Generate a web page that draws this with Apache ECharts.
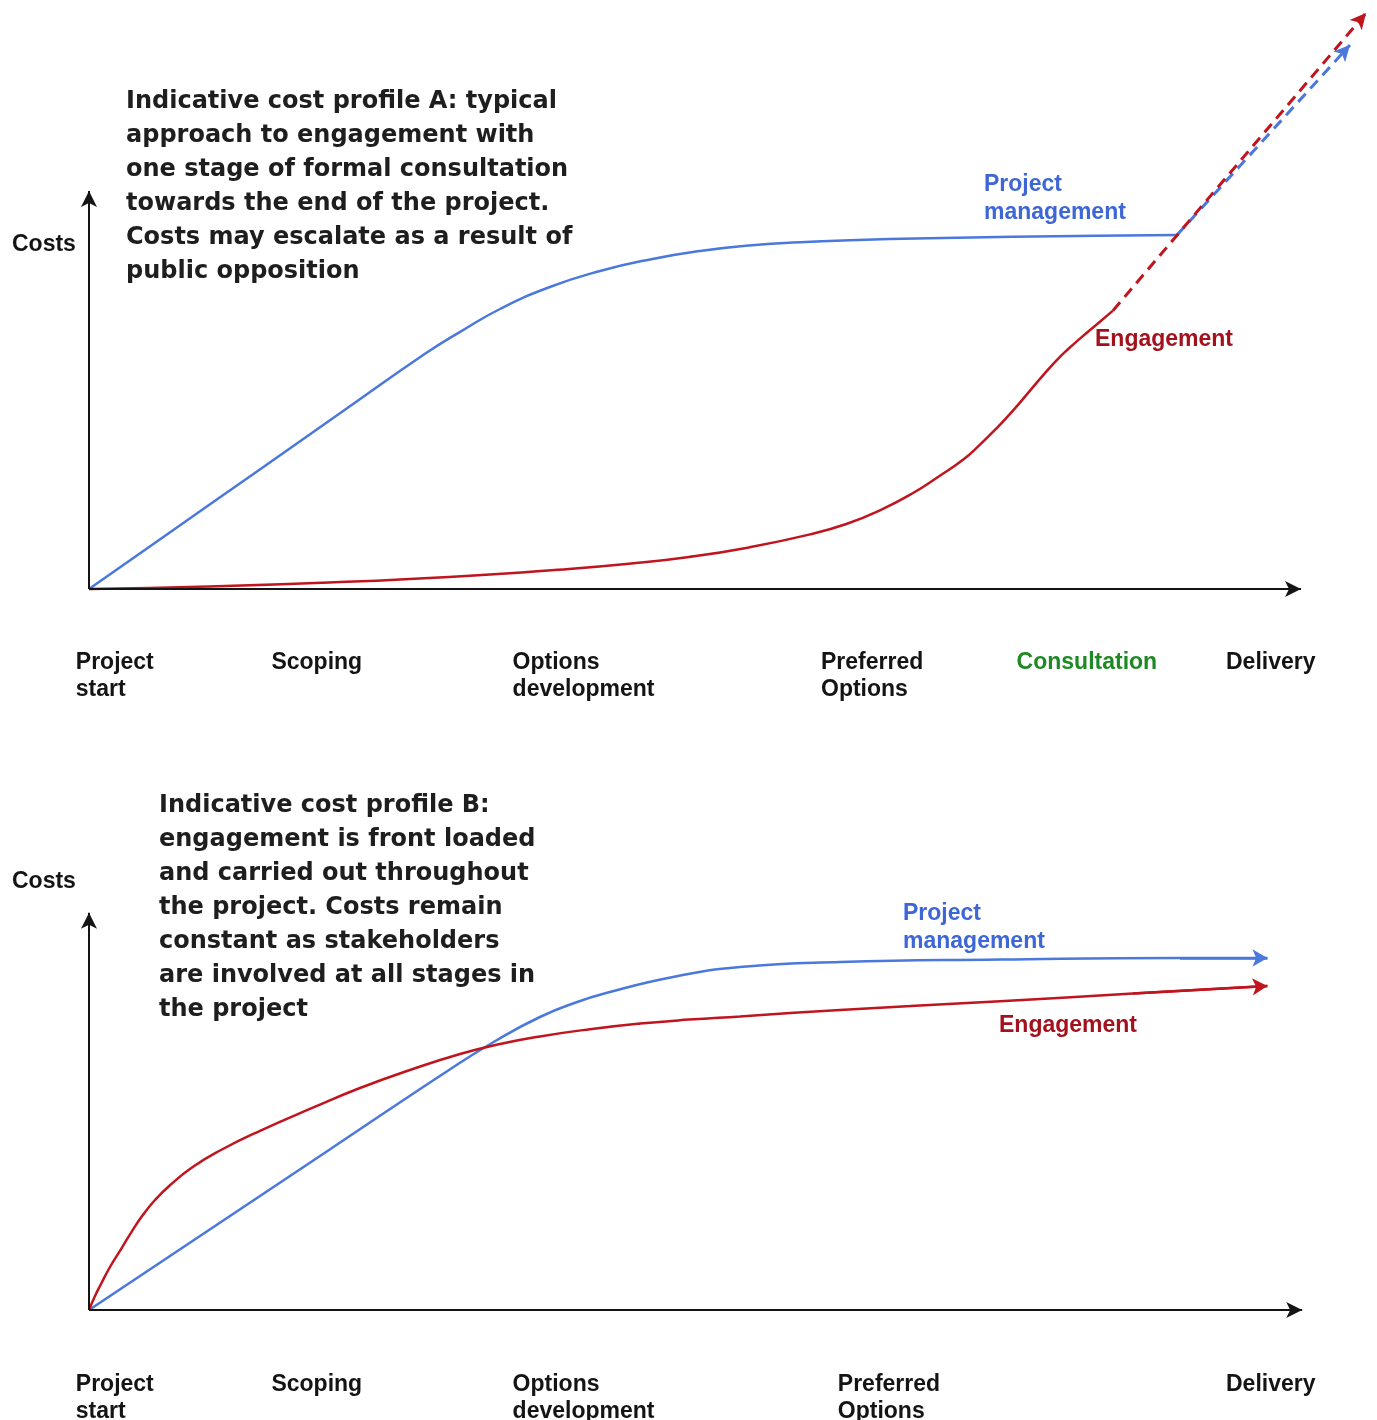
<!DOCTYPE html>
<html>
<head>
<meta charset="utf-8">
<script src="https://cdn.jsdelivr.net/npm/echarts@6/dist/echarts.min.js"></script>
<style>
  html, body { margin: 0; padding: 0; background: #ffffff; }
  #chart { width: 1377px; height: 1420px; }
</style>
</head>
<body>
<div id="chart"></div>
<script>
// ---- Profile A: typical approach, one formal consultation stage near the end ----
// x = project progress, y = relative cost (axis arrows at roughly 101 / 100)
const stageLabelsA = ['Project\nstart', 'Scoping', 'Options\ndevelopment', 'Preferred\nOptions', 'Consultation', 'Delivery'];
const stageAtA = [-1.1, 15.2, 35.3, 61, 77.3, 94.75];

const pmCostA = [[0, 0], [7, 14.7], [14, 29.4], [21, 44.1], [28, 58.8], [31, 64.4], [34.25, 70], [38.4, 75.5],
  [42.58, 79.5], [46.75, 82.4], [50.92, 84.5], [55, 85.9], [59.25, 86.7], [63.4, 87.2], [70, 87.7], [77, 88.05],
  [84, 88.3], [90.67, 88.5]];
const engCostA = [[0, 0], [10, 0.6], [20, 1.6], [30, 3], [40, 5], [45, 6.3], [50, 8], [55, 10.4], [60, 13.6],
  [63.17, 16.3], [66, 19.8], [68.67, 24], [70.75, 28], [72.83, 32.3], [74.25, 36.1], [75.67, 40.3], [77, 44.6],
  [78.42, 49.6], [79.5, 53.4], [80.67, 57.3], [81.6, 60], [82.58, 62.6], [84, 66.2], [85.33, 69.6]];
// escalation after the consultation stage (dashed)
const pmEscalationA = [[90.67, 88.5], [105.08, 136]];
const engEscalationA = [[85.33, 69.6], [106.42, 144]];

// ---- Profile B: front-loaded engagement throughout the project ----
const stageLabelsB = ['Project\nstart', 'Scoping', 'Options\ndevelopment', 'Preferred\nOptions', 'Delivery'];
const stageAtB = [-1.1, 15.2, 35.3, 62.4, 94.75];

const pmCostB = [[0, 0], [10, 20], [20, 40], [30, 60], [34, 67.5], [37.58, 73.25], [40.5, 76.8], [43.17, 79.3],
  [48.67, 83.25], [54.25, 85.75], [62.58, 87], [75.92, 87.6], [90.92, 88], [98.2, 88]];
const engCostB = [[0, 0], [0.5, 3.5], [1, 6.5], [1.75, 10.75], [2.75, 15.6], [3.6, 19.8], [4.5, 23.8], [5.5, 27.5],
  [6.75, 31.2], [8.67, 35.8], [11, 40], [14.25, 44.8], [18.75, 50.7], [22.58, 55.5], [26.75, 60], [30.92, 64],
  [34.25, 66.5], [37.58, 68.4], [41.75, 70.2], [45.92, 71.6], [50, 72.6], [54.25, 73.4], [62.58, 75], [75.92, 77.2],
  [87, 79.1], [98.2, 81]];

const axisEndA = [101, 99.5];
const axisEndB = [101.1, 99.3];

const BLUE = '#4a78dc';
const RED = '#c0141e';
const BLUE_TEXT = '#3d66d6';
const RED_TEXT = '#a3121c';
const GREEN_TEXT = '#1e8a24';
const INK = '#141414';

const stageFont = { fontFamily: 'Liberation Sans', fontWeight: 'bold', fontSize: 23, lineHeight: 27 };

function stageAxis(gridIndex, labels, positions, margin) {
  return {
    type: 'value', gridIndex: gridIndex, min: -2, max: 107,
    axisLine: { show: false }, axisTick: { show: false }, splitLine: { show: false },
    axisLabel: {
      show: true,
      customValues: positions,
      margin: margin,
      align: 'left',
      verticalAlign: 'top',
      ...stageFont,
      color: INK,
      formatter: function (v) {
        const i = positions.indexOf(v);
        const name = i >= 0 ? labels[i] : '';
        return name === 'Consultation' ? '{g|' + name + '}' : name;
      },
      rich: { g: { ...stageFont, color: GREEN_TEXT } }
    }
  };
}

function axesMarkLine(end) {
  return {
    silent: true,
    symbol: ['none', 'arrow'],
    symbolSize: [12, 16],
    label: { show: false },
    lineStyle: { color: INK, width: 2, type: 'solid' },
    emphasis: { disabled: true },
    data: [
      [{ coord: [0, 0] }, { coord: [end[0], 0] }],
      [{ coord: [0, 0] }, { coord: [0, end[1]] }]
    ]
  };
}

function arrowMarkLine(pts, color, dashed) {
  return {
    silent: true,
    symbol: ['none', 'arrow'],
    symbolSize: dashed ? [12, 16] : [13, 15],
    label: { show: false },
    lineStyle: { color: color, width: dashed ? 3 : 2.5, type: dashed ? [11, 7] : 'solid' },
    emphasis: { disabled: true },
    data: [[{ coord: pts[0] }, { coord: pts[1] }]]
  };
}

function curve(name, gridIndex, data, color, markLine) {
  return {
    name: name, type: 'line', xAxisIndex: gridIndex, yAxisIndex: gridIndex,
    data: data, smooth: 0.5, symbol: 'none', clip: false,
    lineStyle: { color: color, width: 2.5 },
    emphasis: { disabled: true },
    markLine: markLine
  };
}

const paraFont = 'bold 24px "DejaVu Sans"';
function text(x, y, str, font, color, lineHeight) {
  return {
    type: 'text', left: x, top: y, silent: true,
    style: { text: str, font: font, fill: color, lineHeight: lineHeight }
  };
}
const labelFont = 'bold 23px "Liberation Sans"';

const option = {
  animation: false,
  backgroundColor: '#ffffff',
  grid: [
    { left: 65, top: 0, width: 1308, height: 589, outerBoundsMode: 'none' },
    { left: 65, top: 910, width: 1308, height: 400, outerBoundsMode: 'none' }
  ],
  xAxis: [
    stageAxis(0, stageLabelsA, stageAtA, 60),
    stageAxis(1, stageLabelsB, stageAtB, 61)
  ],
  yAxis: [
    { type: 'value', gridIndex: 0, min: 0, max: 147.25, show: false },
    { type: 'value', gridIndex: 1, min: 0, max: 100, show: false }
  ],
  series: [
    { type: 'line', xAxisIndex: 0, yAxisIndex: 0, data: [], markLine: axesMarkLine(axisEndA) },
    { type: 'line', xAxisIndex: 1, yAxisIndex: 1, data: [], markLine: axesMarkLine(axisEndB) },
    curve('Project management', 0, pmCostA, BLUE, arrowMarkLine(pmEscalationA, BLUE, true)),
    curve('Engagement', 0, engCostA, RED, arrowMarkLine(engEscalationA, RED, true)),
    curve('Project management', 1, pmCostB, BLUE, arrowMarkLine(pmCostB.slice(-2), BLUE, false)),
    curve('Engagement', 1, engCostB, RED, arrowMarkLine(engCostB.slice(-2), RED, false))
  ],
  graphic: [
    text(126, 85, 'Indicative cost profile A: typical\napproach to engagement with\none stage of formal consultation\ntowards the end of the project.\nCosts may escalate as a result of\npublic opposition', paraFont, '#1e1e1e', 34),
    text(159, 789, 'Indicative cost profile B:\nengagement is front loaded\nand carried out throughout\nthe project. Costs remain\nconstant as stakeholders\nare involved at all stages in\nthe project', paraFont, '#1e1e1e', 34),
    text(12, 231, 'Costs', labelFont, INK, 27),
    text(12, 868, 'Costs', labelFont, INK, 27),
    text(984, 171, 'Project\nmanagement', labelFont, BLUE_TEXT, 28),
    text(1095, 326, 'Engagement', labelFont, RED_TEXT, 28),
    text(903, 900, 'Project\nmanagement', labelFont, BLUE_TEXT, 28),
    text(999, 1012, 'Engagement', labelFont, RED_TEXT, 28)
  ]
};

const chart = echarts.init(document.getElementById('chart'), null, { renderer: 'canvas' });
chart.setOption(option);
</script>
</body>
</html>
